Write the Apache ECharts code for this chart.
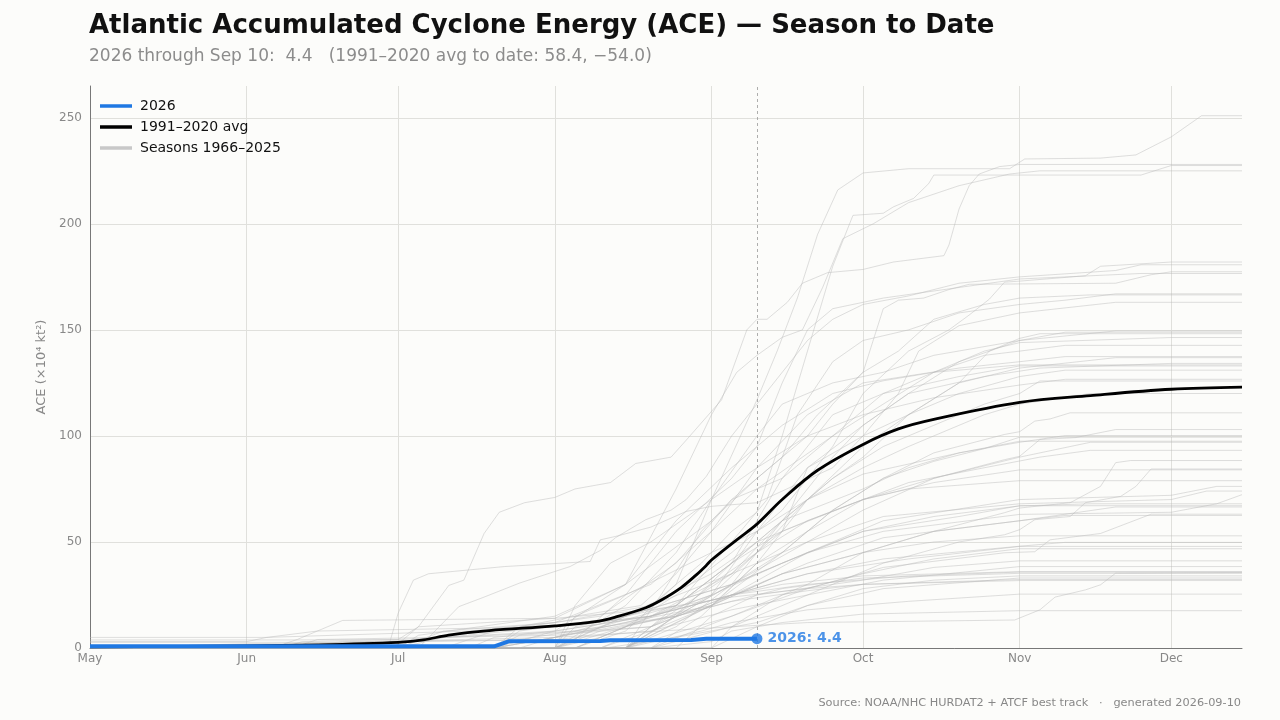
<!DOCTYPE html>
<html>
<head>
<meta charset="utf-8">
<script src="https://cdn.jsdelivr.net/npm/echarts@6/dist/echarts.min.js"></script>
<style>
  html, body { margin: 0; padding: 0; background: #fcfcfa; }
  #chart { width: 1280px; height: 720px; }
</style>
</head>
<body>
<div id="chart"></div>
<script>
// dates are written as MMDD (month*100 + day) within the season, values in 10^4 kt^2
var monthNames = ['Jan', 'Feb', 'Mar', 'Apr', 'May', 'Jun', 'Jul', 'Aug', 'Sep', 'Oct', 'Nov', 'Dec'];
var seasonStart = 501;
var seasonEnd = 1215;
var todayMD = 910;

// 2026 season so far
var ace2026 = [[501, 0.8], [720, 0.8], [723, 3.2], [810, 3.3], [812, 3.7], [828, 3.8], [831, 4.4], [910, 4.4]];

// 1991-2020 average
var aceAvg = [[501, 0.5], [601, 1.0], [615, 1.5], [701, 2.7], [706, 3.8], [711, 6.1], [719, 8.2], [801, 10.4],
  [809, 12.4], [813, 14.6], [819, 19], [822, 22.5], [826, 28.5], [829, 34.5], [831, 39], [901, 41.5],
  [906, 51], [910, 58.4], [915, 70], [922, 83.8], [1001, 96], [1008, 103.3], [1015, 107.8],
  [1101, 115.8], [1115, 119], [1201, 122], [1215, 123]];

// past seasons 1966-2025 (each ends flat at its final value)
var pastSeasons = [
  [[501,0],[805,0],[815,8],[825,30],[901,70],[910,117],[914,140],[918,165],[922,195],[926,216],[1001,224],[1010,226],[1030,226],[1102,230.6],[1117,231],[1124,232.5],[1201,241],[1207,251]],
  [[501,0],[608,0],[612,3],[701,4],[705,10],[711,29.5],[714,32],[718,54],[721,64],[726,68.5],[801,71],[805,75],[812,78],[817,87],[824,90],[827,98],[903,117],[908,150],[910,155],[912,155],[916,163],[919,172],[924,177],[1001,178.5],[1007,182],[1017,185],[1018,190],[1020,207],[1022,218],[1024,223.5],[1028,227],[1101,228]],
  [[501,0],[720,0],[725,4],[810,10],[820,20],[830,40],[905,55],[910,64],[915,100],[920,140],[925,180],[929,204],[1005,205],[1007,208],[1011,212],[1014,219],[1015,223],[1125,223],[1201,227.5]],
  [[501,0],[715,0],[720,5],[801,8],[815,30],[825,75],[901,110],[906,130],[910,138],[915,146.5],[919,150],[923,170],[927,193],[1003,200],[1010,210],[1020,218],[1030,223.5],[1105,225]],
  [[501,0],[801,0],[815,10],[825,25],[905,45],[915,65],[925,95],[1001,120],[1010,140],[1018,150],[1022,157],[1026,164.5],[1029,172.5],[1101,173],[1114,175.5],[1117,180],[1201,182]],
  [[501,0],[705,0],[713,19.5],[718,24],[725,30.6],[731,35.3],[804,38.4],[810,46],[813,52],[819,60.5],[824,65],[827,70],[831,81],[905,100],[910,115],[915,130],[920,145],[925,155],[1001,162],[1010,166],[1020,172],[1101,175],[1120,178],[1125,180.7]],
  [[501,0],[710,0],[720,8],[810,15],[825,40],[905,70],[915,90],[922,110],[1001,130],[1005,160],[1008,164],[1013,165],[1018,169],[1022,171.5],[1120,172],[1127,176],[1201,177.4]],
  [[501,0],[601,2],[805,4],[815,25],[825,55],[905,80],[910,95],[915,125],[920,150],[925,160],[1005,165],[1020,170],[1101,174],[1125,176.6]],
  [[501,0],[815,0],[825,20],[905,50],[912,70],[918,110],[925,135],[1001,145],[1010,150],[1020,158],[1101,162],[1110,164],[1120,167]],
  [[501,0],[701,0],[705,6],[801,15],[815,30],[901,60],[910,80],[920,100],[925,115],[1001,130],[1008,140],[1015,155],[1025,162],[1101,165],[1115,166.5]],
  [[501,0],[629,0],[701,16.5],[704,32],[707,35],[722,38.4],[808,40.8],[810,51],[813,52.6],[820,57],[827,64.4],[901,66.8],[910,68.5],[925,85],[1001,100],[1008,120],[1012,140],[1020,152],[1101,158],[1120,163]],
  [[501,0],[801,0],[805,20],[812,40],[820,50],[901,70],[910,100],[915,115],[925,125],[1005,130],[1015,138],[1101,145],[1120,149.5]],
  [[501,0],[720,0],[801,5],[825,15],[905,30],[915,60],[925,90],[1001,105],[1010,120],[1020,135],[1101,145],[1110,148.9]],
  [[501,0],[815,0],[820,10],[905,35],[915,55],[920,85],[1001,100],[1010,110],[1020,125],[1026,140],[1101,146],[1105,148.2]],
  [[501,3],[601,3],[605,5],[715,8],[801,12],[820,30],[901,55],[910,75],[925,100],[1005,120],[1015,130],[1025,140],[1101,144],[1201,146.4]],
  [[501,0],[815,0],[822,25],[830,55],[905,70],[915,80],[925,100],[1005,115],[1015,130],[1025,138],[1101,140],[1110,142.7]],
  [[501,0],[720,0],[725,10],[805,15],[818,20],[825,35],[901,55],[910,85],[920,110],[1001,125],[1020,132],[1101,135],[1110,137.4]],
  [[501,0],[801,0],[810,10],[825,20],[905,40],[915,60],[925,80],[1001,90],[1010,110],[1020,125],[1101,132],[1120,136.9]],
  [[501,0],[610,0],[615,4],[801,6],[820,10],[901,25],[910,55],[920,85],[1001,105],[1010,120],[1025,128],[1105,132],[1201,134.2]],
  [[501,0],[630,0],[705,10],[801,14],[815,30],[825,60],[905,85],[915,105],[925,120],[1005,126],[1015,130],[1101,133.5]],
  [[501,0],[815,0],[825,15],[905,40],[915,80],[925,110],[1005,120],[1020,128],[1101,133]],
  [[501,0],[805,0],[815,10],[901,25],[910,45],[920,70],[1001,95],[1010,110],[1020,120],[1101,128],[1110,131]],
  [[501,0],[801,0],[815,20],[825,45],[901,70],[910,85],[920,100],[1001,110],[1015,118],[1101,124],[1110,126.7]],
  [[501,0],[701,0],[710,5],[801,10],[820,15],[905,35],[915,60],[925,80],[1005,95],[1015,105],[1025,115],[1101,120],[1105,125.9]],
  [[501,0],[820,0],[830,15],[910,40],[920,70],[1001,85],[1010,95],[1025,110],[1101,115],[1115,120]],
  [[501,0],[815,0],[825,10],[905,30],[915,45],[925,65],[1005,80],[1015,92],[1029,100.7],[1101,102],[1104,107],[1107,108],[1111,110.9]],
  [[501,0],[720,0],[725,8],[815,15],[905,30],[920,50],[1001,65],[1015,80],[1029,88.8],[1101,90.4],[1105,98.3],[1112,99.2],[1120,103]],
  [[501,0],[801,0],[810,5],[825,20],[905,40],[915,60],[1001,75],[1010,85],[1020,92],[1101,97],[1110,100.2]],
  [[501,0],[620,0],[625,3],[801,5],[815,12],[901,20],[915,45],[925,65],[1005,80],[1015,88],[1025,94],[1101,99.4]],
  [[501,0],[801,0],[805,15],[815,25],[901,45],[910,55],[920,70],[1001,82],[1020,92],[1101,97.5]],
  [[501,0],[810,0],[820,8],[901,20],[910,40],[920,55],[1001,70],[1015,80],[1101,90],[1115,97]],
  [[501,0],[815,0],[822,10],[901,30],[910,45],[920,60],[1001,70],[1010,78],[1025,85],[1105,90],[1115,93.2]],
  [[501,0],[815,0],[905,15],[920,30],[1001,45],[1015,55],[1029,63.8],[1101,66],[1111,68.5],[1117,76.2],[1120,87.4],[1123,88.4]],
  [[501,0],[820,0],[905,10],[920,25],[1005,40],[1020,50],[1029,53.4],[1101,55.8],[1104,60.5],[1111,62],[1114,68.5],[1121,71.5],[1124,76.2],[1127,84.4]],
  [[501,0],[720,0],[801,5],[815,15],[901,35],[910,50],[920,60],[1001,70],[1015,78],[1101,84]],
  [[501,0],[801,0],[805,10],[825,20],[905,40],[915,55],[1001,70],[1010,75],[1101,78.9]],
  [[501,0],[815,0],[825,15],[905,30],[920,45],[1005,60],[1101,70],[1201,72],[1210,76.2]],
  [[501,0],[701,0],[710,8],[801,12],[820,20],[905,35],[920,50],[1005,62],[1101,68],[1201,70],[1208,74]],
  [[501,0],[810,0],[820,10],[905,25],[920,45],[1005,55],[1101,63],[1201,64],[1210,68],[1215,72.3]],
  [[501,0],[801,0],[815,15],[905,30],[920,45],[1001,55],[1015,62],[1101,67],[1115,68]],
  [[501,0],[720,0],[801,8],[820,15],[901,25],[915,40],[1001,55],[1020,62],[1101,67.1]],
  [[501,0],[815,0],[901,20],[915,35],[1001,45],[1015,55],[1101,60],[1120,66.5]],
  [[501,0],[820,0],[905,15],[920,28],[1005,38],[1029,44.9],[1104,45.4],[1107,51],[1117,54],[1127,63.1]],
  [[501,0],[725,0],[801,5],[815,12],[905,25],[920,40],[1005,52],[1101,60],[1110,62.5]],
  [[501,0],[805,0],[815,10],[901,20],[915,35],[1001,45],[1015,50],[1101,52.9]],
  [[501,0],[720,0],[725,6],[820,10],[905,25],[920,35],[1005,42],[1101,48],[1110,49.8]],
  [[501,5],[605,5],[615,8],[801,10],[820,15],[905,25],[920,35],[1010,42],[1101,47.9]],
  [[501,0],[901,0],[905,10],[915,25],[1001,35],[1015,42],[1101,46.8]],
  [[501,0],[825,0],[901,15],[910,25],[1001,32],[1015,38],[1101,41.1]],
  [[501,0],[610,0],[620,3],[801,4],[820,8],[905,18],[920,25],[1005,32],[1101,38.4]],
  [[501,0],[815,0],[825,12],[905,25],[915,30],[1001,34],[1101,36]],
  [[501,0],[720,0],[801,5],[905,10],[920,12],[1031,13.2],[1105,18],[1108,24],[1114,27.4],[1117,29.8],[1120,35.3],[1215,35.6]],
  [[501,2.7],[701,2.7],[710,5],[801,8],[820,15],[905,25],[920,30],[1010,34],[1101,35.8]],
  [[501,0],[801,0],[810,8],[825,15],[905,22],[915,28],[1001,33],[1101,35.2]],
  [[501,0],[901,0],[910,10],[920,20],[1001,28],[1015,32],[1101,34]],
  [[501,0],[811,0],[825,5],[910,12],[920,20],[1005,28],[1101,33]],
  [[501,3.8],[611,3.8],[701,4],[720,6],[805,8],[825,15],[905,22],[920,27],[1001,30],[1101,32.3]],
  [[501,0],[606,0],[611,4],[620,13],[801,14],[820,18],[905,24],[920,28],[1001,30],[1101,31.8]],
  [[501,0],[815,0],[830,8],[905,12],[920,18],[1010,22],[1101,25.4]],
  [[501,0],[820,0],[901,3],[905,8],[915,12],[1001,16],[1101,17.6]]
];

var yTicks = [0, 50, 100, 150, 200, 250];

function md(n) {
  return new Date(2026, Math.floor(n / 100) - 1, n % 100).getTime();
}
function toSeries(pts, holdToEnd) {
  var out = pts.map(function (p) { return [md(p[0]), p[1]]; });
  var last = pts[pts.length - 1];
  if (holdToEnd && last[0] < seasonEnd) out.push([md(seasonEnd), last[1]]);
  return out;
}

var chart = echarts.init(document.getElementById('chart'), null, { width: 1280, height: 720 });

var blue = '#1f78e3';
var grayLine = 'rgba(185,185,185,0.5)';
var series = [];

pastSeasons.forEach(function (s) {
  series.push({
    name: 'Seasons 1966–2025',
    type: 'line',
    data: toSeries(s, true),
    showSymbol: false,
    silent: true,
    color: '#c8c8c8',
    lineStyle: { color: grayLine, width: 0.9, join: 'round' },
    z: 1
  });
});

series.push({
  name: '1991–2020 avg',
  type: 'line',
  data: toSeries(aceAvg, true),
  showSymbol: false,
  smooth: 0.35,
  color: '#000',
  lineStyle: { color: '#000', width: 2.8, join: 'round' },
  z: 5
});

series.push({
  name: '2026',
  type: 'line',
  data: toSeries(ace2026, false),
  showSymbol: false,
  color: blue,
  lineStyle: { color: blue, width: 4, join: 'round' },
  z: 6,
  markLine: {
    silent: true,
    symbol: 'none',
    label: { show: false },
    lineStyle: { color: '#999', type: [3, 3], width: 0.8 },
    data: [{ xAxis: md(todayMD) }]
  }
});

series.push({
  name: '2026',
  type: 'scatter',
  data: [[md(todayMD), ace2026[ace2026.length - 1][1]]],
  symbolSize: 11,
  itemStyle: { color: blue },
  z: 7,
  label: {
    show: true,
    position: 'right',
    distance: 5,
    formatter: function (p) { return '2026: ' + p.value[1].toFixed(1); },
    color: blue,
    fontSize: 14,
    fontWeight: 'bold',
    fontFamily: 'DejaVu Sans'
  }
});

var option = {
  backgroundColor: '#fcfcfa',
  animation: false,
  textStyle: { fontFamily: 'DejaVu Sans' },
  title: [
    {
      text: 'Atlantic Accumulated Cyclone Energy (ACE) — Season to Date',
      left: 84, top: 8,
      textStyle: { fontSize: 26, fontWeight: 'bold', color: '#111', fontFamily: 'DejaVu Sans' }
    },
    {
      text: '2026 through Sep 10:  4.4   (1991–2020 avg to date: 58.4, \u221254.0)',
      left: 84, top: 43,
      textStyle: { fontSize: 17, fontWeight: 'normal', color: '#8c8c8c', fontFamily: 'DejaVu Sans' }
    },
    {
      text: 'Source: NOAA/NHC HURDAT2 + ATCF best track   ·   generated 2026-09-10',
      right: 34, top: 693,
      textStyle: { fontSize: 11.3, fontWeight: 'normal', color: '#888', fontFamily: 'DejaVu Sans' }
    }
  ],
  legend: {
    orient: 'vertical',
    left: 95, top: 94,
    itemWidth: 32, itemHeight: 3.5,
    itemGap: 7,
    icon: 'rect',
    textStyle: { fontSize: 14, color: '#111', lineHeight: 14, padding: [0, 0, 0, 3] },
    data: [
      { name: '2026', itemStyle: { color: blue } },
      { name: '1991–2020 avg', itemStyle: { color: '#000' } },
      { name: 'Seasons 1966–2025', itemStyle: { color: '#c8c8c8' } }
    ]
  },
  grid: { left: 90, right: 38, top: 86, bottom: 72 },
  xAxis: {
    type: 'time',
    min: md(seasonStart),
    max: md(seasonEnd),
    splitNumber: 8,
    axisLine: { lineStyle: { color: '#777', width: 1 } },
    axisTick: { show: false },
    axisLabel: {
      color: '#888', fontSize: 12, margin: 5,
      formatter: function (v) { return monthNames[new Date(v).getMonth()]; }
    },
    splitLine: { show: true, showMinLine: false, showMaxLine: false, lineStyle: { color: '#e0e0dc', width: 1 } },
    minorTick: { show: false }
  },
  yAxis: {
    type: 'value',
    min: 0, max: 265, interval: 50,
    name: 'ACE (×10⁴ kt²)',
    nameLocation: 'middle',
    nameGap: 33,
    nameTextStyle: { color: '#888', fontSize: 13 },
    axisLine: { show: true, lineStyle: { color: '#777', width: 1 } },
    axisTick: { show: false },
    axisLabel: {
      color: '#888', fontSize: 12, margin: 8,
      formatter: function (v) { return yTicks.indexOf(v) >= 0 ? String(v) : ''; }
    },
    splitLine: { showMaxLine: false, lineStyle: { color: '#e0e0dc', width: 1 } }
  },
  series: series
};

chart.setOption(option);
</script>
</body>
</html>
